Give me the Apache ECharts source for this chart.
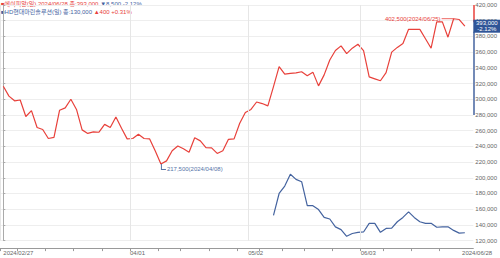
<!DOCTYPE html>
<html><head><meta charset="utf-8">
<script src="https://cdn.jsdelivr.net/npm/echarts@6/dist/echarts.min.js"></script>
<style>html,body{margin:0;padding:0;background:#fff}#c{width:500px;height:258px}</style>
</head><body><div id="c"></div>
<script>
// trading days (KRX) per month
const months = ['2024/02','2024/03','2024/04','2024/05','2024/06'];
const febDays = [27,28,29];
const marDays = [4,5,6,7,8,11,12,13,14,15,18,19,20,21,22,25,26,27,28,29];
const aprDays = [1,2,3,4,5,8,9,11,12,15,16,17,18,19,22,23,24,25,26,29,30];
const mayDays = [2,3,7,8,9,10,13,14,16,17,20,21,22,23,24,27,28,29,30,31];
const junDays = [3,4,5,7,10,11,12,13,14,17,18,19,20,21,24,25,26,27,28];

// 에이피알 daily close (won)
const redValues = [
  316500,304000,298000,299000,278000,285500,264000,261500,250000,251500,
  286000,289000,300000,287000,261000,256500,258500,258000,268000,264000,
  277500,263000,249500,250000,255500,250000,249500,234000,217500,221500,
  234500,240500,237000,232500,251000,247000,238500,238000,231000,234500,
  249000,249500,269500,283000,287000,296500,294500,291500,316000,341500,
  332000,333000,333500,335000,330000,334500,317000,331000,350000,362000,
  368000,358000,365000,370000,362000,328500,326000,323500,334000,360000,
  366000,371000,389000,389000,389000,377000,365000,398500,398500,379000,
  402500,401500,393000
];
// HD현대마린솔루션 daily close (won), starting at trading-day index blueStart
const blueStart = 48;
const blueValues = [
  152000,180000,189500,204500,198000,195000,164500,164500,159500,149500,
  147500,137500,134000,125500,129000,130500,131000,142000,142000,130500,
  135500,136000,144000,149500,156500,149500,144000,142000,142000,137000,
  137500,137500,133000,129500,130000
];

const legendRed = ['■에이피알(일) 2024/06/28 종:393,000 ', '▼8,500 -2.12%'];
const legendBlue = ['■HD현대마린솔루션(일) 종:130,000 ', '▲400 +0.31%'];
const lastClose = 393000;
const lastBoxText = ['393,000', '-2.12%'];
const lowDate = '2024/04/08';
const highDate = '2024/06/25';
const labelMonths = ['2024/04', '2024/05', '2024/06'];

const yMin = 120000, yMax = 420000, yStep = 20000;

const RED = '#e8413b', BLUE = '#44639f';
const FONT = 'Liberation Sans, Arial, "Noto Sans CJK KR", sans-serif';

const dates = [];
months.forEach((m, k) => [febDays, marDays, aprDays, mayDays, junDays][k]
  .forEach(d => dates.push(m + '/' + String(d).padStart(2, '0'))));

// labelled month starts and week starts
const monthStarts = [];
const weekStarts = [];
dates.forEach((d, i) => {
  if (i === 0) return;
  if (d.slice(0, 7) !== dates[i - 1].slice(0, 7) && labelMonths.includes(d.slice(0, 7))) monthStarts.push(i);
  const a = new Date(d), b = new Date(dates[i - 1]);
  if (a.getDay() <= b.getDay() || (a - b) > 6 * 864e5) weekStarts.push(i);
});
const lastIdx = dates.length - 1;
const xMin = -0.5, xMax = dates.length + 0.5;
const labelVals = [0].concat(monthStarts.map(i => i - 0.5), [lastIdx - 0.5]);
const labelText = {};
labelText[0] = dates[0];
monthStarts.forEach(i => { labelText[i - 0.5] = dates[i].slice(5); });
labelText[lastIdx - 0.5] = dates[lastIdx];

const redData = redValues.map((v, i) => [i, v]);
const blueData = blueValues.map((v, i) => [blueStart + i, v]);
const fmt = v => v.toLocaleString('en-US');

const chart = echarts.init(document.getElementById('c'), null, {renderer: 'svg'});
chart.setOption({
  animation: false,
  textStyle: {fontFamily: FONT},
  grid: {left: 0.5, right: 25.5, top: 5, bottom: 17.4},
  xAxis: {
    type: 'value', min: xMin, max: xMax, offset: 7.5,
    axisLine: {lineStyle: {color: '#9a9a9a'}},
    axisTick: {show: true, customValues: [xMin].concat(weekStarts.map(i => i - 0.5)), length: 3, lineStyle: {color: '#9a9a9a'}},
    axisLabel: {customValues: labelVals, formatter: v => labelText[v] || '', fontSize: 6, color: '#666', align: 'left', margin: 2, fontFamily: FONT,
                showMinLabel: true, showMaxLabel: true, hideOverlap: false},
    splitLine: {show: false}
  },
  yAxis: {
    type: 'value', position: 'right', min: yMin, max: yMax, interval: yStep,
    axisLine: {show: true, lineStyle: {color: '#aaa'}},
    axisTick: {show: true, length: 2, lineStyle: {color: '#aaa'}},
    axisLabel: {fontSize: 6, color: '#666', margin: 2, formatter: fmt, fontFamily: FONT},
    splitLine: {lineStyle: {color: '#eeeeee'}}
  },
  graphic: [
    {type: 'text', left: 1, top: 1, style: {
      text: '{a|' + legendRed[0] + '}{b|' + legendRed[1] + '}',
      rich: {a: {fill: RED, fontSize: 6, fontFamily: FONT}, b: {fill: BLUE, fontSize: 6, fontFamily: FONT}}
    }},
    {type: 'text', left: 1, top: 8.5, style: {
      text: '{a|' + legendBlue[0] + '}{b|' + legendBlue[1] + '}',
      rich: {a: {fill: BLUE, fontSize: 6, fontFamily: FONT}, b: {fill: RED, fontSize: 6, fontFamily: FONT}}
    }}
  ],
  series: [
    {
      type: 'line', data: redData, symbol: 'none', z: 3,
      lineStyle: {color: RED, width: 1.2},
      markLine: {
        silent: true, symbol: 'none', animation: false,
        data: [
          ...[xMin].concat(monthStarts.map(i => i - 0.5)).map(x => ({xAxis: x, lineStyle: {color: '#e6e6e6', width: 1, type: 'solid'}, label: {show: false}})),
          [{coord: [xMax, yMax], lineStyle: {color: RED, width: 1.5, type: 'solid'}, label: {show: false}}, {coord: [xMax, 398000]}]
        ]
      },
      markPoint: {
        silent: true, animation: false,
        data: [
          {type: 'min', symbol: 'path://M0,0 H1 V5 H5 V6 H0 Z', symbolSize: [5, 6], symbolOffset: [2.5, 3],
           itemStyle: {color: '#5674a8'},
           label: {show: true, position: 'right', distance: 1, offset: [0, 2], color: '#5674a8', fontSize: 6, fontFamily: FONT,
                   formatter: p => fmt(p.value) + '(' + lowDate + ')'}},
          {type: 'max', symbol: 'rect', symbolSize: [12, 0.8], symbolOffset: [-6, 0],
           itemStyle: {color: RED},
           label: {show: true, position: 'left', distance: 1, color: RED, fontSize: 6, fontFamily: FONT,
                   formatter: p => fmt(p.value) + '(' + highDate + ')'}},
          {coord: [xMax, lastClose], symbol: 'rect', symbolSize: [27, 13], symbolOffset: [13.5, 0],
           itemStyle: {color: '#2f5597'},
           label: {show: true, position: 'inside', color: '#fff', fontSize: 6, lineHeight: 6, fontFamily: FONT,
                   formatter: lastBoxText.join('\n')}}
        ]
      }
    },
    {
      type: 'line', data: blueData, symbol: 'none', z: 3,
      lineStyle: {color: BLUE, width: 1.2},
      markLine: {
        silent: true, symbol: 'none', animation: false,
        data: [
          [{coord: [xMax, 386000], lineStyle: {color: BLUE, width: 1.5, type: 'solid'}, label: {show: false}}, {coord: [xMax, 280000]}]
        ]
      }
    }
  ]
});
</script></body></html>
